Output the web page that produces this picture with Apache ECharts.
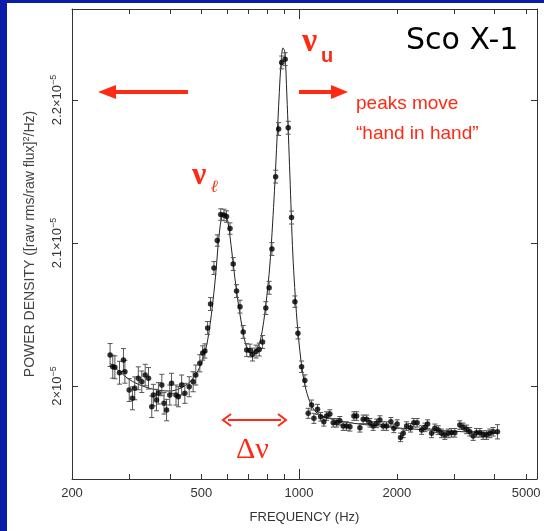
<!DOCTYPE html>
<html>
<head>
<meta charset="utf-8">
<script src="https://cdn.jsdelivr.net/npm/echarts@6/dist/echarts.min.js"></script>
<style>
    html, body { margin: 0; padding: 0; background: #fff; }
    #spectrum { width: 544px; height: 531px; }
</style>
</head>
<body>
<div id="spectrum"></div>
<script>
// frequency of each measured bin (Hz)
var freq = [
    262, 267, 271, 280, 288, 291, 300, 307, 312, 320,
    328, 336, 344, 352, 356, 364, 369, 378, 384, 391,
    400, 405, 418, 425, 435, 445, 459, 472, 481, 495,
    505, 513, 523, 534, 547, 560, 574, 587, 598, 613,
    627, 642, 658, 673, 690, 706, 719, 737, 754, 772,
    790, 809, 825, 847, 865, 884, 906, 926, 948, 971,
    992, 1018, 1042, 1067, 1093, 1111, 1140, 1165, 1192, 1215,
    1244, 1274, 1305, 1335, 1367, 1400, 1434, 1475, 1503, 1539,
    1575, 1614, 1652, 1691, 1732, 1773, 1815, 1859, 1917, 1958,
    2004, 2053, 2092, 2143, 2204, 2256, 2309, 2383, 2440, 2487,
    2558, 2618, 2681, 2745, 2810, 2877, 2946, 3016, 3125, 3200,
    3278, 3354, 3434, 3518, 3602, 3687, 3776, 3866, 3956, 4080
];
// power density, in units of 1e-5
var power = [
    2.0217, 2.0135, 2.0131, 2.0093, 2.0182, 2.0100, 1.9972, 1.9914, 1.9984, 2.0054,
    2.0030, 2.0077, 2.0054, 1.9855, 1.9937, 1.9902, 1.9949, 2.0007, 1.9879, 1.9832,
    1.9937, 2.0019, 1.9937, 1.9925, 2.0007, 1.9949, 1.9995, 2.0030, 2.0077, 2.0159,
    2.0231, 2.0245, 2.0406, 2.0573, 2.0825, 2.1017, 2.1199, 2.1196, 2.1185, 2.1101,
    2.0853, 2.0664, 2.0555, 2.0378, 2.0252, 2.0248, 2.0220, 2.0241, 2.0255, 2.0308,
    2.0545, 2.0687, 2.0958, 2.1464, 2.1797, 2.2262, 2.2285, 2.1806, 2.1178, 2.0590,
    2.0369, 2.0135, 2.0038, 1.9809, 1.9867, 1.9774, 1.9837, 1.9785, 1.9750, 1.9790,
    1.9804, 1.9743, 1.9743, 1.9757, 1.9720, 1.9720, 1.9715, 1.9790, 1.9790, 1.9708,
    1.9767, 1.9767, 1.9743, 1.9720, 1.9739, 1.9762, 1.9720, 1.9720, 1.9750, 1.9704,
    1.9734, 1.9641, 1.9669, 1.9720, 1.9708, 1.9743, 1.9743, 1.9692, 1.9711, 1.9734,
    1.9669, 1.9704, 1.9692, 1.9669, 1.9657, 1.9669, 1.9673, 1.9673, 1.9727, 1.9711,
    1.9697, 1.9680, 1.9650, 1.9673, 1.9673, 1.9657, 1.9657, 1.9669, 1.9680, 1.9680
];
// half length of each error bar (1e-5)
var errs = [
    0.0080, 0.0080, 0.0080, 0.0080, 0.0080, 0.0080, 0.0080, 0.0080, 0.0080, 0.0080,
    0.0075, 0.0075, 0.0075, 0.0075, 0.0075, 0.0075, 0.0075, 0.0075, 0.0075, 0.0075,
    0.0070, 0.0070, 0.0070, 0.0070, 0.0070, 0.0070, 0.0070, 0.0070, 0.0070, 0.0060,
    0.0050, 0.0050, 0.0045, 0.0045, 0.0045, 0.0040, 0.0040, 0.0040, 0.0040, 0.0040,
    0.0045, 0.0045, 0.0045, 0.0045, 0.0045, 0.0045, 0.0045, 0.0045, 0.0045, 0.0045,
    0.0045, 0.0045, 0.0045, 0.0045, 0.0045, 0.0045, 0.0045, 0.0045, 0.0045, 0.0040,
    0.0040, 0.0040, 0.0040, 0.0035, 0.0035, 0.0035, 0.0035, 0.0030, 0.0030, 0.0030,
    0.0030, 0.0030, 0.0030, 0.0030, 0.0030, 0.0030, 0.0030, 0.0030, 0.0030, 0.0030,
    0.0030, 0.0030, 0.0030, 0.0030, 0.0030, 0.0030, 0.0030, 0.0030, 0.0030, 0.0030,
    0.0030, 0.0030, 0.0030, 0.0030, 0.0030, 0.0030, 0.0030, 0.0030, 0.0030, 0.0030,
    0.0030, 0.0030, 0.0030, 0.0030, 0.0030, 0.0030, 0.0030, 0.0030, 0.0030, 0.0030,
    0.0030, 0.0030, 0.0030, 0.0030, 0.0030, 0.0030, 0.0030, 0.0030, 0.0030, 0.0050
];
// fitted model
var fitFreq = [262, 281, 302, 324, 348, 373, 400, 430, 461, 488, 513, 532, 551, 567, 579, 591,
    604, 621, 639, 662, 686, 711, 737, 763, 790, 813, 837, 861, 879, 892, 904, 917, 937, 957,
    985, 1013, 1042, 1080, 1127, 1201, 1335, 1539, 1773, 2043, 2528, 3125, 4080];
var fitPower = [2.0161, 2.0098, 2.0042, 2.0007, 1.9983, 1.9969, 1.9965, 1.9983, 2.0028, 2.0105,
    2.0231, 2.0427, 2.0727, 2.1049, 2.1189, 2.1203, 2.1147, 2.0937, 2.0699, 2.0462, 2.0287,
    2.0231, 2.0252, 2.0336, 2.0566, 2.0846, 2.1301, 2.1860, 2.2245, 2.2364, 2.2336, 2.2035,
    2.1476, 2.0916, 2.0462, 2.0182, 2.0007, 1.9888, 1.9818, 1.9783, 1.9755, 1.9734, 1.9720,
    1.9706, 1.9692, 1.9682, 1.9671];

var xTicks = [200, 300, 400, 500, 600, 700, 800, 900, 1000, 2000, 3000, 4000, 5000];
var xLabels = [200, 500, 1000, 2000, 5000];
var yTicks = [2.0, 2.1, 2.2];

var RED = '#ff2a14';
var AXIS = '#333';

(function () {
    var chart = echarts.init(document.getElementById('spectrum'));
    var lg = Math.log10;
    var xMin = lg(200), xMax = lg(5400);
    var yMin = 1.935, yMax = 2.2636;

    var points = freq.map(function (f, i) { return [lg(f), power[i], errs[i]]; });
    var fit = fitFreq.map(function (f, i) { return [lg(f), fitPower[i]]; });

    //纵轴刻度文字 2×10^-5
    function yLabel(v) {
        var s = Math.abs(v - 2) < 1e-6 ? '2' : v.toFixed(1);
        return s + '×10{s|−5}';
    }
    var supStyle = { fontSize: 9, verticalAlign: 'top', lineHeight: 10, color: AXIS, fontFamily: 'Liberation Sans' };

    function tickAxis(pos, values, len, show) {
        return {
            type: 'value', position: pos, min: xMin, max: xMax,
            axisLine: { show: show, lineStyle: { color: AXIS } },
            axisTick: { inside: true, length: len, customValues: values.map(lg), lineStyle: { color: AXIS } },
            axisLabel: { show: false },
            splitLine: { show: false }
        };
    }

    var option = {
        backgroundColor: '#fff',
        animation: false,
        grid: { left: 72, right: 7, top: 9, bottom: 52 },
        xAxis: [{
            type: 'value', position: 'bottom', min: xMin, max: xMax,
            name: 'FREQUENCY (Hz)', nameLocation: 'middle', nameGap: 32,
            nameTextStyle: { color: AXIS, fontSize: 13, fontFamily: 'Liberation Sans' },
            axisLine: { lineStyle: { color: AXIS } },
            axisTick: { inside: true, length: 5, customValues: xTicks.map(lg), lineStyle: { color: AXIS } },
            axisLabel: {
                customValues: xLabels.map(lg), margin: 8,
                color: AXIS, fontSize: 13, fontFamily: 'Liberation Sans',
                formatter: function (v) { return Math.round(Math.pow(10, v)); }
            },
            splitLine: { show: false }
        },
            tickAxis('top', xTicks, 5, true),
            tickAxis('bottom', [1000], 10, false),
            tickAxis('top', [1000], 10, false)
        ],
        yAxis: [{
            type: 'value', position: 'left', min: yMin, max: yMax,
            name: 'POWER DENSITY ([raw rms/raw flux]{s|2}/Hz)', nameLocation: 'middle', nameGap: 34, nameRotate: 90,
            nameTextStyle: {
                color: '#444', fontSize: 14, fontFamily: 'Liberation Sans', lineHeight: 16,
                rich: { s: supStyle }
            },
            axisLine: { show: true, lineStyle: { color: AXIS } },
            axisTick: { inside: true, length: 6, customValues: yTicks, lineStyle: { color: AXIS } },
            axisLabel: {
                customValues: yTicks, rotate: 90, margin: 7,
                color: AXIS, fontSize: 13, fontFamily: 'Liberation Sans', lineHeight: 16,
                formatter: yLabel,
                rich: { s: supStyle }
            },
            splitLine: { show: false }
        }, {
            type: 'value', position: 'right', min: yMin, max: yMax,
            axisLine: { show: true, lineStyle: { color: AXIS } },
            axisTick: { inside: true, length: 6, customValues: yTicks, lineStyle: { color: AXIS } },
            axisLabel: { show: false },
            splitLine: { show: false }
        }],
        series: [{
            // 拟合曲线
            type: 'line',
            data: fit,
            smooth: 0.3,
            showSymbol: false,
            lineStyle: { color: '#222', width: 1 },
            z: 1
        }, {
            // 误差棒
            type: 'custom',
            data: points,
            renderItem: function (params, api) {
                var x = api.value(0), y = api.value(1), e = api.value(2);
                var top = api.coord([x, y + e]);
                var bot = api.coord([x, y - e]);
                var cap = 2.5;
                var st = { stroke: '#555', lineWidth: 1 };
                return {
                    type: 'group',
                    children: [
                        { type: 'line', shape: { x1: top[0], y1: top[1], x2: bot[0], y2: bot[1] }, style: st },
                        { type: 'line', shape: { x1: top[0] - cap, y1: top[1], x2: top[0] + cap, y2: top[1] }, style: st },
                        { type: 'line', shape: { x1: bot[0] - cap, y1: bot[1], x2: bot[0] + cap, y2: bot[1] }, style: st }
                    ]
                };
            },
            z: 2
        }, {
            // 数据点
            type: 'scatter',
            data: points,
            symbol: 'circle',
            symbolSize: 5.5,
            itemStyle: { color: '#000' },
            z: 3
        }],
        graphic: [
            { type: 'rect', shape: { x: 0, y: 0, width: 7, height: 531 }, style: { fill: '#0a1ca8' } },
            { type: 'rect', shape: { x: 0, y: 0, width: 544, height: 3 }, style: { fill: '#0a1ca8' } },
            { type: 'text', x: 406, y: 41, style: { text: 'Sco X-1', fill: '#000', font: '30px "DejaVu Sans"', textVerticalAlign: 'middle' } },
            { type: 'text', x: 302, y: 42, style: { text: 'ν', fill: RED, font: 'bold 34px "Liberation Serif"', textVerticalAlign: 'middle' } },
            { type: 'text', x: 321, y: 56, style: { text: 'u', fill: RED, font: 'bold 20px "Liberation Sans"', textVerticalAlign: 'middle' } },
            { type: 'text', x: 192, y: 176, style: { text: 'ν', fill: RED, font: 'bold 32px "Liberation Serif"', textVerticalAlign: 'middle' } },
            { type: 'text', x: 211, y: 188, style: { text: 'ℓ', fill: RED, font: 'italic bold 17px "DejaVu Serif"', textVerticalAlign: 'middle' } },
            { type: 'line', shape: { x1: 188, y1: 92, x2: 112, y2: 92 }, style: { stroke: RED, lineWidth: 4 } },
            { type: 'polygon', shape: { points: [[98, 92], [116, 85], [116, 99]] }, style: { fill: RED } },
            { type: 'line', shape: { x1: 299, y1: 92, x2: 335, y2: 92 }, style: { stroke: RED, lineWidth: 4 } },
            { type: 'polygon', shape: { points: [[348, 92], [331, 85], [331, 99]] }, style: { fill: RED } },
            { type: 'text', x: 356, y: 104, style: { text: 'peaks move', fill: RED, font: '19px "Liberation Sans"', textVerticalAlign: 'middle' } },
            { type: 'text', x: 356, y: 134, style: { text: '“hand in hand”', fill: RED, font: '19px "Liberation Sans"', textVerticalAlign: 'middle' } },
            { type: 'line', shape: { x1: 228, y1: 420, x2: 281, y2: 420 }, style: { stroke: RED, lineWidth: 2 } },
            { type: 'polyline', shape: { points: [[231, 414], [223, 420], [231, 426]] }, style: { stroke: RED, lineWidth: 2, fill: null } },
            { type: 'polyline', shape: { points: [[278, 414], [286, 420], [278, 426]] }, style: { stroke: RED, lineWidth: 2, fill: null } },
            { type: 'text', x: 236, y: 450, style: { text: 'Δν', fill: RED, font: '30px "Liberation Serif"', textVerticalAlign: 'middle' } }
        ]
    };
    chart.setOption(option);
})();
</script>
</body>
</html>
